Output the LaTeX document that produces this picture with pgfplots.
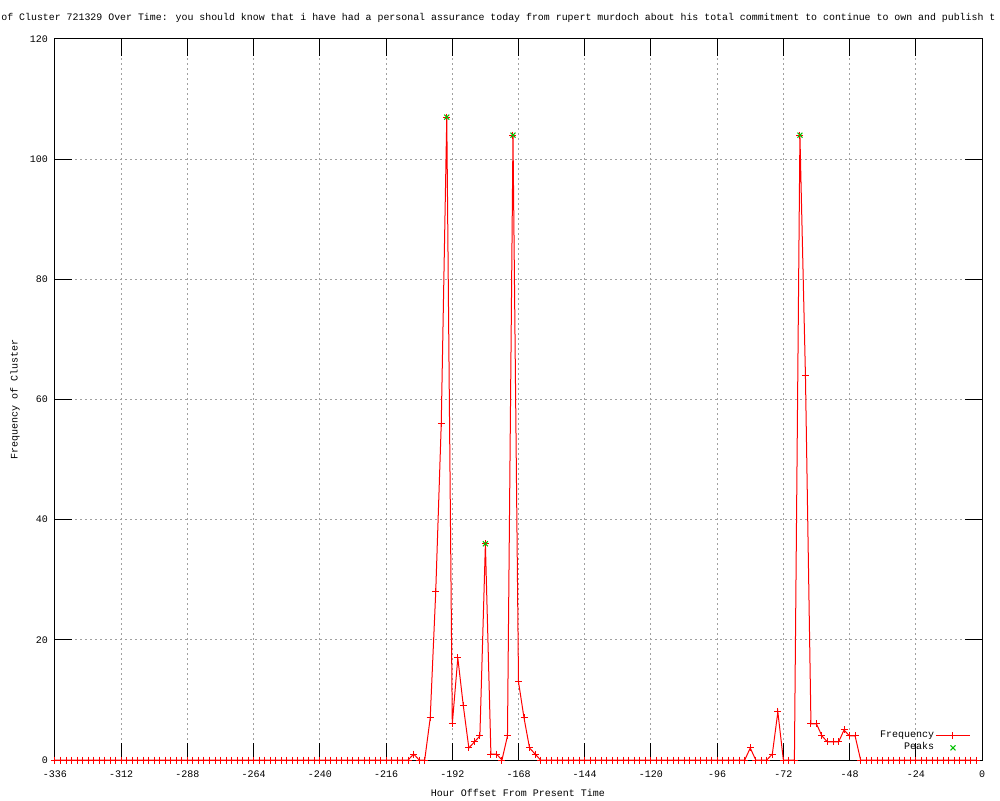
\documentclass[border=0pt]{standalone}
\usepackage{pgfplots}
\usepackage{pgfplotstable}
\pgfplotsset{compat=1.18}
\usepackage{fontspec}
\setmainfont{Liberation Mono}
\setmonofont{Liberation Mono}
\definecolor{gpred}{RGB}{255,0,0}
\definecolor{gpgreen}{RGB}{0,192,0}
\definecolor{gpgrid}{RGB}{160,160,160}
\pgfplotstableread{
x y
-336 0
-334 0
-332 0
-330 0
-328 0
-326 0
-324 0
-322 0
-320 0
-318 0
-316 0
-314 0
-312 0
-310 0
-308 0
-306 0
-304 0
-302 0
-300 0
-298 0
-296 0
-294 0
-292 0
-290 0
-288 0
-286 0
-284 0
-282 0
-280 0
-278 0
-276 0
-274 0
-272 0
-270 0
-268 0
-266 0
-264 0
-262 0
-260 0
-258 0
-256 0
-254 0
-252 0
-250 0
-248 0
-246 0
-244 0
-242 0
-240 0
-238 0
-236 0
-234 0
-232 0
-230 0
-228 0
-226 0
-224 0
-222 0
-220 0
-218 0
-216 0
-214 0
-212 0
-210 0
-208 0
-206 1
-204 0
-202 0
-200 7
-198 28
-196 56
-194 107
-192 6
-190 17
-188 9
-186 2
-184 3
-182 4
-180 36
-178 1
-176 1
-174 0
-172 4
-170 104
-168 13
-166 7
-164 2
-162 1
-160 0
-158 0
-156 0
-154 0
-152 0
-150 0
-148 0
-146 0
-144 0
-142 0
-140 0
-138 0
-136 0
-134 0
-132 0
-130 0
-128 0
-126 0
-124 0
-122 0
-120 0
-118 0
-116 0
-114 0
-112 0
-110 0
-108 0
-106 0
-104 0
-102 0
-100 0
-98 0
-96 0
-94 0
-92 0
-90 0
-88 0
-86 0
-84 2
-82 0
-80 0
-78 0
-76 1
-74 8
-72 0
-70 0
-68 0
-66 104
-64 64
-62 6
-60 6
-58 4
-56 3
-54 3
-52 3
-50 5
-48 4
-46 4
-44 0
-42 0
-40 0
-38 0
-36 0
-34 0
-32 0
-30 0
-28 0
-26 0
-24 0
-22 0
-20 0
-18 0
-16 0
-14 0
-12 0
-10 0
-8 0
-6 0
-4 0
-2 0
}\freqdata
\pgfplotstableread{
x y
-194 107
-180 36
-170 104
-66 104
}\peakdata
\begin{document}
\begin{tikzpicture}[font=\fontsize{5}{6}\selectfont]
\path[use as bounding box] (0,0) rectangle (500pt,400pt);
\begin{axis}[
  at={(27.5pt,20pt)}, anchor=south west,
  scale only axis, width=463.5pt, height=360.5pt,
  xmin=-336, xmax=0, ymin=0, ymax=120,
  xtick={-336,-312,...,0}, ytick={0,20,...,120},
  tick align=inside, major tick length=8.5pt,
  major tick style={draw=black, line width=0.5pt},
  axis line style={line width=0.5pt},
  grid=major, grid style={gpgrid, line width=0.5pt, dash pattern=on 1pt off 1.5pt},
  /pgf/number format/assume math mode=true,
  ticklabel style={font=\fontsize{5}{6}\selectfont},
  xticklabel style={yshift=-1.8pt},
  legend style={draw=none, fill=none, at={(rel axis cs:0.9945,0.002)}, anchor=south east,
    row sep=0pt, nodes={inner sep=0.6pt}, font=\fontsize{5}{6}\selectfont},
  legend cell align=right, legend plot pos=right,
]
\addplot[gpred, line width=0.5pt, mark=none, forget plot] table[x=x,y=y] {\freqdata};
\addplot[only marks, draw=gpred, color=gpred, line width=0.5pt, mark=+, mark size=1.75pt,
  legend image code/.code={
    \draw[gpred, line width=0.5pt] (0cm,0cm) -- (0.6cm,0cm) (0.3cm,-1.75pt) -- (0.3cm,1.75pt);
  }] table[x=x,y=y] {\freqdata};
\addlegendentry{Frequency}
\addplot[only marks, draw=gpgreen, color=gpgreen, line width=0.5pt, mark=x, mark size=1.75pt] table[x=x,y=y] {\peakdata};
\addlegendentry{Peaks}
\end{axis}
\node[anchor=west, inner sep=0pt, font=\fontsize{4.95}{6}\selectfont] at (0.5pt,391pt) {of Cluster 721329 Over Time: you should know that i have had a personal assurance today from rupert murdoch about his total commitment to continue to own and publish t};
\node[rotate=90, inner sep=0pt] at (7.5pt,200.25pt) {Frequency of Cluster};
\node[inner sep=0pt] at (259pt,3.5pt) {Hour Offset From Present Time};
\end{tikzpicture}
\end{document}
